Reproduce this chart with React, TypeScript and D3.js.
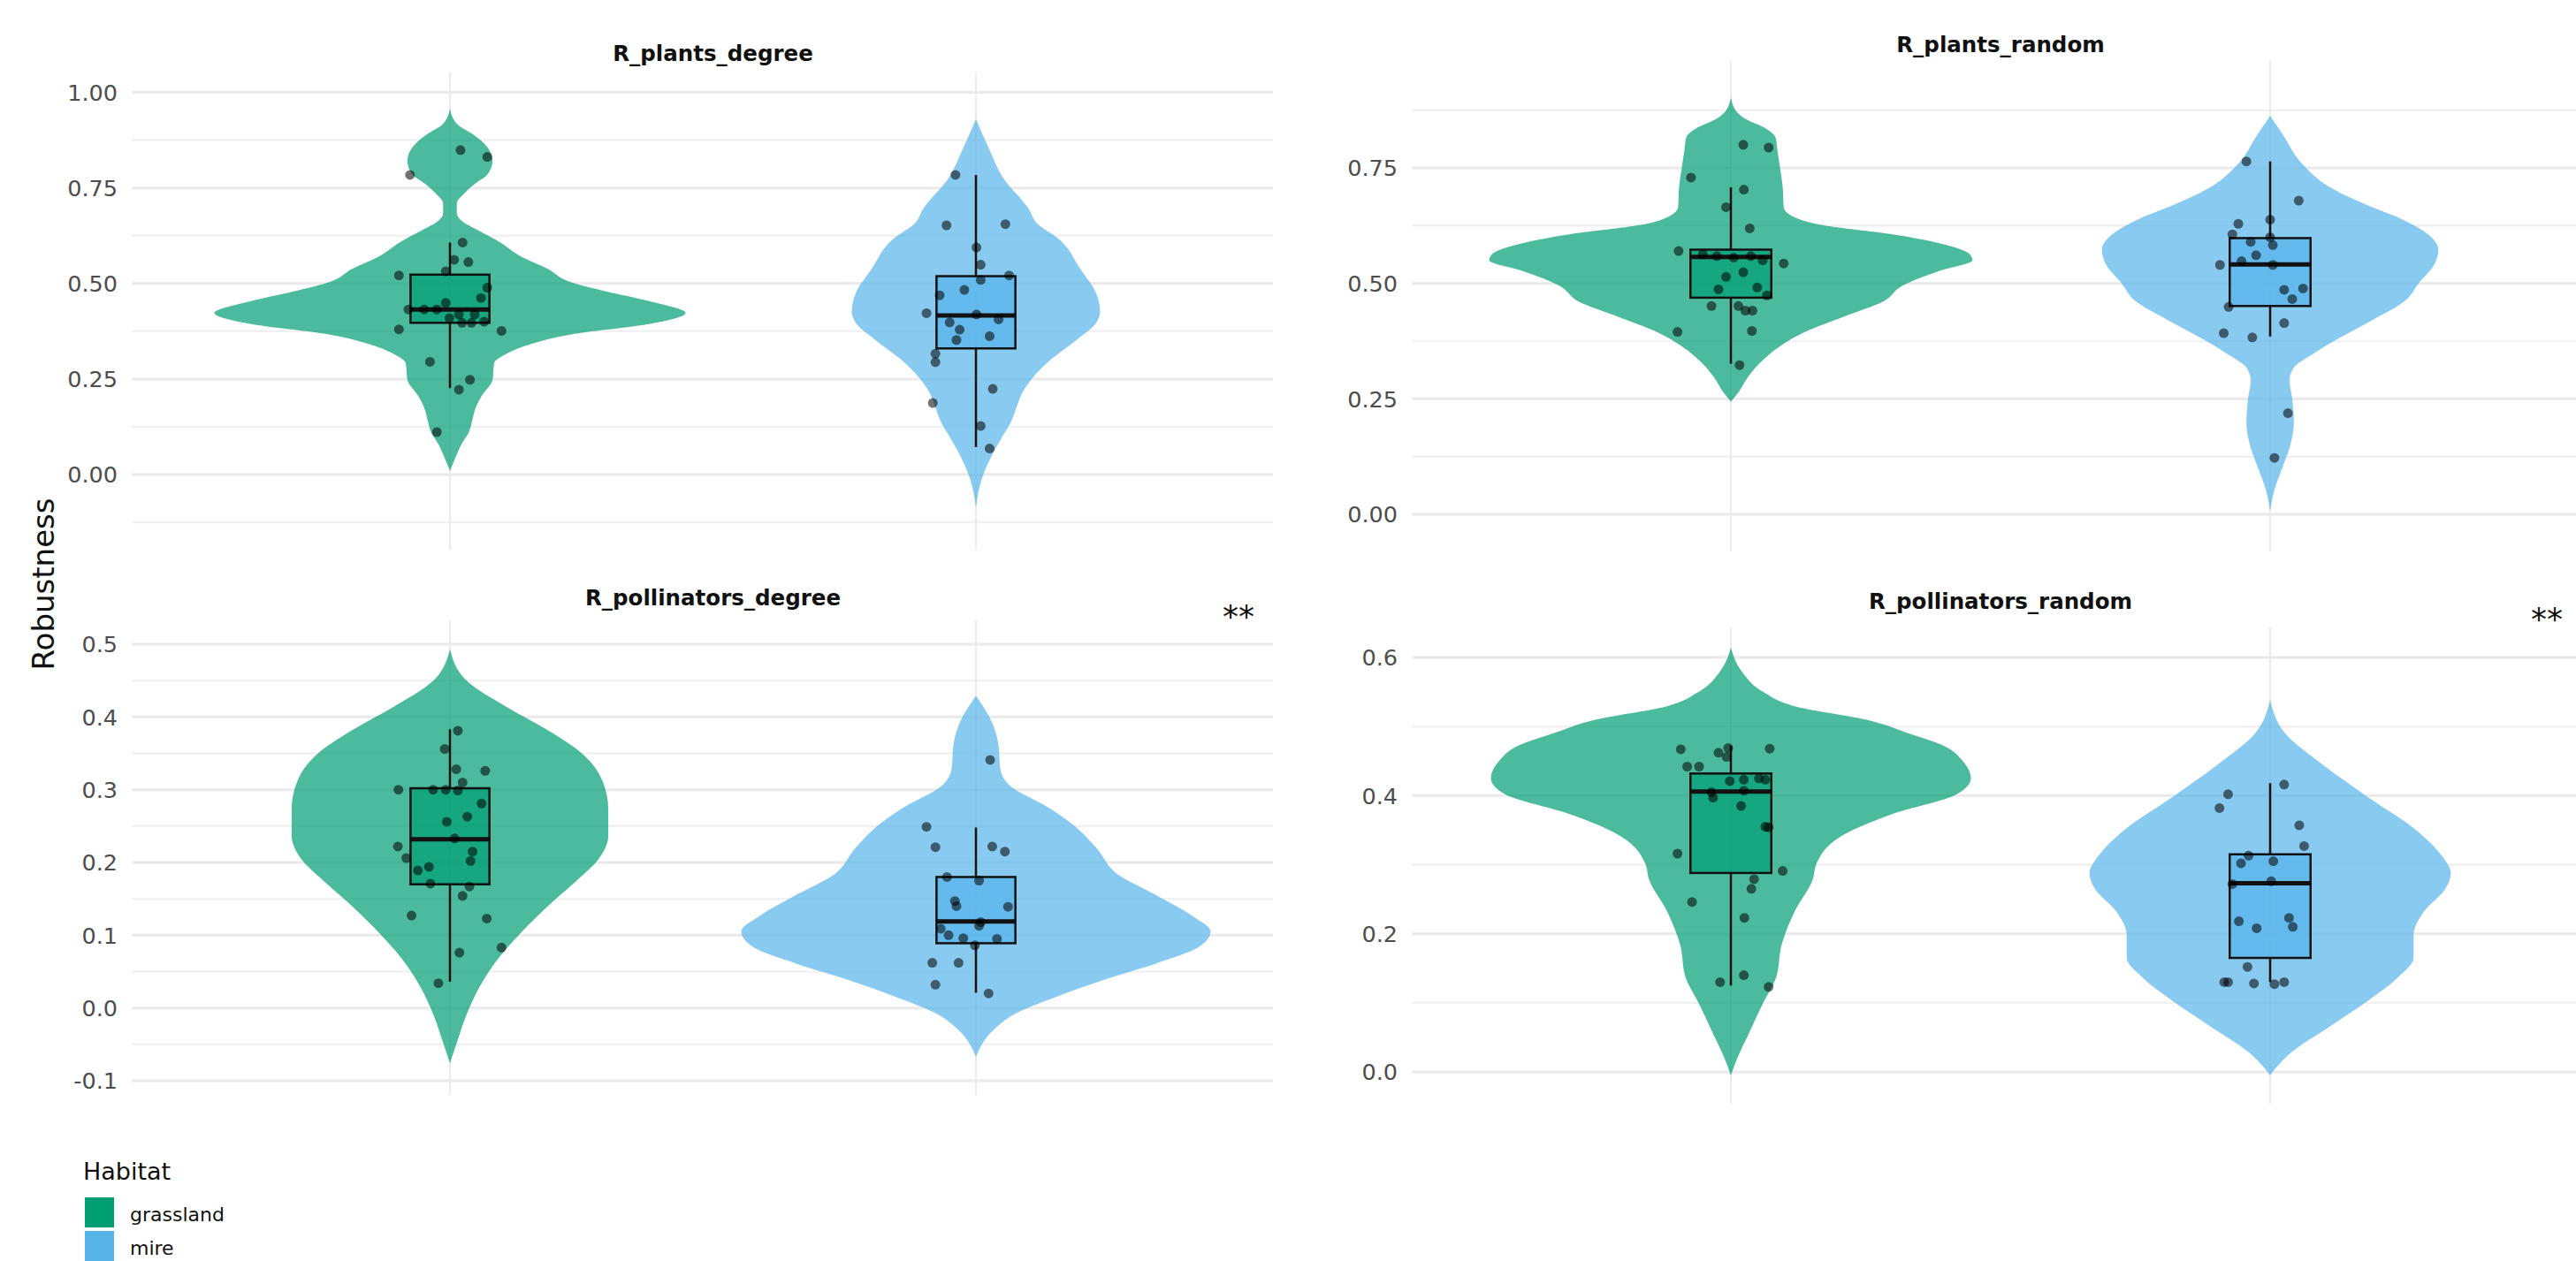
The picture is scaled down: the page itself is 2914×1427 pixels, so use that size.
import React from "react";
import * as d3 from "d3";

// ---------------- DATA ----------------
const habitats = ["grassland", "mire"];
const habitatColors = ["#009E73", "#56B4E9"];
const panelTitles = ["R_plants_degree", "R_plants_random", "R_pollinators_degree", "R_pollinators_random"];
const significance = ["", "", "**", "**"];
const yAxisTitle = "Robustness";
const legendTitle = "Habitat";

const ticksPlantsDegree = [0, 0.25, 0.5, 0.75, 1.0];
const minorPlantsDegree = [-0.125, 0.125, 0.375, 0.625, 0.875];
const ticksPlantsRandom = [0, 0.25, 0.5, 0.75];
const minorPlantsRandom = [0.125, 0.375, 0.625, 0.875];
const ticksPollDegree = [-0.1, 0, 0.1, 0.2, 0.3, 0.4, 0.5];
const minorPollDegree = [-0.05, 0.05, 0.15, 0.25, 0.35, 0.45];
const ticksPollRandom = [0, 0.2, 0.4, 0.6];
const minorPollRandom = [0.1, 0.3, 0.5];

// box stats: [lower whisker, Q1, median, Q3, upper whisker]
const plantsDegreeGrasslandBox = [0.226, 0.397, 0.432, 0.523, 0.607];
const plantsDegreeMireBox = [0.072, 0.33, 0.416, 0.519, 0.784];
const plantsRandomGrasslandBox = [0.326, 0.469, 0.557, 0.573, 0.708];
const plantsRandomMireBox = [0.385, 0.451, 0.541, 0.598, 0.764];
const pollDegreeGrasslandBox = [0.036, 0.17, 0.232, 0.302, 0.383];
const pollDegreeMireBox = [0.021, 0.089, 0.119, 0.18, 0.248];
const pollRandomGrasslandBox = [0.125, 0.288, 0.406, 0.432, 0.472];
const pollRandomMireBox = [0.13, 0.165, 0.273, 0.315, 0.418];

// points: [value, horizontal jitter (category units)]
const plantsDegreeGrasslandPts = [[0.849,0.020],[0.831,0.071],[0.784,-0.076],[0.607,0.024],[0.562,0.008],[0.556,0.035],[0.532,-0.008],[0.521,-0.097],[0.489,0.071],[0.462,0.059],[0.449,-0.008],[0.432,-0.079],[0.432,-0.049],[0.432,-0.025],[0.419,0.017],[0.419,0.047],[0.409,-0.001],[0.397,0.023],[0.397,0.041],[0.400,0.065],[0.380,-0.097],[0.376,0.098],[0.295,-0.038],[0.248,0.038],[0.222,0.017],[0.111,-0.025]];
const plantsDegreeMirePts = [[0.784,-0.039],[0.652,-0.056],[0.655,0.056],[0.594,0.001],[0.549,0.009],[0.521,0.063],[0.509,0.009],[0.483,-0.022],[0.469,-0.069],[0.422,-0.094],[0.419,0.001],[0.406,0.043],[0.398,-0.05],[0.379,-0.031],[0.362,0.026],[0.352,-0.037],[0.316,-0.077],[0.294,-0.077],[0.224,0.032],[0.187,-0.082],[0.127,0.009],[0.068,0.026]];
const plantsRandomGrasslandPts = [[0.8,0.023],[0.794,0.07],[0.729,-0.074],[0.703,0.024],[0.665,-0.009],[0.619,0.035],[0.57,-0.097],[0.563,-0.052],[0.559,-0.026],[0.556,0.005],[0.559,0.037],[0.55,0.059],[0.543,0.098],[0.524,0.023],[0.514,-0.009],[0.487,-0.023],[0.491,0.049],[0.474,0.067],[0.451,-0.036],[0.451,0.014],[0.441,0.027],[0.441,0.04],[0.395,-0.099],[0.397,0.039],[0.323,0.016]];
const plantsRandomMirePts = [[0.764,-0.044],[0.679,0.053],[0.638,0],[0.629,-0.059],[0.606,-0.07],[0.6,0],[0.59,-0.036],[0.583,0.005],[0.561,-0.026],[0.548,-0.053],[0.54,-0.093],[0.54,0.005],[0.486,0.026],[0.489,0.061],[0.466,0.041],[0.449,-0.077],[0.414,0.026],[0.392,-0.086],[0.383,-0.033],[0.219,0.033],[0.122,0.008]];
const pollDegreeGrasslandPts = [[0.381,0.015],[0.356,-0.01],[0.328,0.012],[0.326,0.067],[0.3,-0.098],[0.3,-0.032],[0.3,-0.008],[0.299,0.015],[0.31,0.024],[0.281,0.06],[0.263,0.033],[0.256,-0.006],[0.233,0.009],[0.222,-0.099],[0.215,0.043],[0.206,-0.083],[0.202,0.039],[0.194,-0.04],[0.189,-0.061],[0.171,-0.037],[0.167,0.037],[0.154,0.024],[0.127,-0.073],[0.123,0.07],[0.083,0.098],[0.076,0.018],[0.034,-0.022]];
const pollDegreeMirePts = [[0.341,0.027],[0.249,-0.094],[0.221,-0.077],[0.222,0.031],[0.215,0.055],[0.18,-0.055],[0.175,0.006],[0.147,-0.04],[0.14,-0.037],[0.139,0.061],[0.118,0.009],[0.113,0.006],[0.109,-0.067],[0.1,-0.052],[0.096,-0.024],[0.095,0.04],[0.086,-0.002],[0.062,-0.083],[0.062,-0.033],[0.032,-0.077],[0.02,0.024]];
const pollRandomGrasslandPts = [[0.467,-0.093],[0.462,-0.023],[0.469,-0.005],[0.468,0.072],[0.456,-0.008],[0.442,-0.081],[0.442,-0.059],[0.421,-0.002],[0.423,0.024],[0.425,0.052],[0.423,0.064],[0.405,-0.036],[0.407,0.024],[0.397,-0.033],[0.385,0.019],[0.355,0.064],[0.354,0.07],[0.316,-0.099],[0.291,0.096],[0.279,0.043],[0.265,0.038],[0.246,-0.072],[0.223,0.025],[0.14,0.024],[0.13,-0.02],[0.123,0.07]];
const pollRandomMirePts = [[0.416,0.026],[0.402,-0.078],[0.382,-0.094],[0.357,0.054],[0.327,0.063],[0.313,-0.04],[0.305,0.006],[0.302,-0.054],[0.276,0.002],[0.272,-0.07],[0.218,-0.058],[0.208,-0.025],[0.223,0.035],[0.21,0.042],[0.152,-0.042],[0.13,-0.085],[0.13,-0.078],[0.128,-0.03],[0.127,0.008],[0.13,0.026]];

// violin outlines: [value, half-width (category units)]
const plantsDegreeGrasslandViolin = [[0.957,0],[0.932,0.006],[0.915,0.015],[0.889,0.045],[0.855,0.072],[0.821,0.081],[0.786,0.072],[0.761,0.048],[0.735,0.027],[0.709,0.013],[0.684,0.013],[0.662,0.024],[0.641,0.051],[0.607,0.096],[0.573,0.132],[0.538,0.186],[0.504,0.228],[0.479,0.297],[0.453,0.38],[0.423,0.448],[0.393,0.375],[0.368,0.237],[0.342,0.156],[0.316,0.108],[0.291,0.084],[0.248,0.081],[0.205,0.06],[0.171,0.048],[0.145,0.043],[0.111,0.036],[0.077,0.021],[0.043,0.01],[0.009,0]];
const plantsDegreeMireViolin = [[0.93,0],[0.855,0.024],[0.776,0.052],[0.696,0.1],[0.656,0.117],[0.617,0.157],[0.537,0.199],[0.473,0.229],[0.426,0.236],[0.394,0.227],[0.354,0.193],[0.298,0.14],[0.25,0.106],[0.219,0.09],[0.179,0.078],[0.139,0.067],[0.099,0.05],[0.044,0.028],[-0.012,0.011],[-0.085,0]];
const plantsRandomGrasslandViolin = [[0.902,0],[0.87,0.012],[0.856,0.027],[0.835,0.065],[0.815,0.083],[0.79,0.086],[0.751,0.091],[0.71,0.096],[0.665,0.098],[0.645,0.115],[0.626,0.17],[0.606,0.3],[0.586,0.39],[0.563,0.443],[0.55,0.448],[0.527,0.387],[0.494,0.317],[0.461,0.283],[0.428,0.21],[0.395,0.138],[0.362,0.089],[0.329,0.055],[0.296,0.031],[0.264,0.014],[0.244,0]];
const plantsRandomMireViolin = [[0.863,0],[0.823,0.023],[0.758,0.06],[0.711,0.107],[0.672,0.175],[0.639,0.244],[0.606,0.293],[0.573,0.312],[0.54,0.304],[0.501,0.276],[0.461,0.249],[0.422,0.192],[0.382,0.129],[0.349,0.082],[0.316,0.043],[0.29,0.036],[0.25,0.041],[0.198,0.044],[0.152,0.038],[0.099,0.022],[0.053,0.008],[0.007,0]];
const pollDegreeGrasslandViolin = [[0.493,0],[0.449,0.033],[0.414,0.107],[0.383,0.183],[0.348,0.254],[0.312,0.29],[0.273,0.301],[0.237,0.301],[0.206,0.284],[0.175,0.241],[0.14,0.186],[0.105,0.137],[0.07,0.094],[0.03,0.057],[-0.01,0.031],[-0.05,0.012],[-0.076,0]];
const pollDegreeMireViolin = [[0.429,0],[0.392,0.031],[0.361,0.043],[0.33,0.046],[0.304,0.067],[0.277,0.134],[0.251,0.186],[0.22,0.229],[0.184,0.269],[0.153,0.348],[0.127,0.41],[0.105,0.446],[0.083,0.422],[0.061,0.342],[0.039,0.245],[0.017,0.159],[-0.006,0.08],[-0.032,0.031],[-0.067,0]];
const pollRandomGrasslandViolin = [[0.614,0],[0.58,0.02],[0.55,0.06],[0.529,0.12],[0.51,0.25],[0.49,0.33],[0.472,0.395],[0.45,0.43],[0.425,0.445],[0.402,0.419],[0.373,0.298],[0.34,0.202],[0.302,0.159],[0.279,0.152],[0.232,0.118],[0.184,0.094],[0.137,0.084],[0.1,0.06],[0.057,0.034],[0.02,0.012],[-0.005,0]];
const pollRandomMireViolin = [[0.539,0],[0.491,0.027],[0.444,0.099],[0.397,0.183],[0.35,0.271],[0.312,0.319],[0.288,0.335],[0.265,0.325],[0.232,0.285],[0.198,0.266],[0.165,0.266],[0.137,0.237],[0.104,0.183],[0.066,0.111],[0.028,0.039],[-0.005,0]];

// ---------------- LAYOUT ----------------
const W = 2914;
const H = 1427;
const FONT = "'DejaVu Sans', 'Liberation Sans', Arial, sans-serif";

const layouts = [
  { x0: 149, x1: 1440, top: 82, bottom: 622, cx: [509, 1104], yDom: [0, 1], yRng: [537, 104.5], titleY: 69, fmt: ".2f", sigX: 0, sigY: 0 },
  { x0: 1597, x1: 2914, top: 69, bottom: 624, cx: [1958, 2568], yDom: [0, 0.75], yRng: [582, 190], titleY: 58.5, fmt: ".2f", sigX: 0, sigY: 0 },
  { x0: 149, x1: 1440, top: 702, bottom: 1239, cx: [509, 1104], yDom: [-0.1, 0.5], yRng: [1223, 729], titleY: 685, fmt: ".1f", sigX: 1401, sigY: 710 },
  { x0: 1597, x1: 2914, top: 710, bottom: 1249, cx: [1958, 2568], yDom: [0, 0.6], yRng: [1213, 744], titleY: 689, fmt: ".1f", sigX: 2881, sigY: 713 },
];

const panelData = [
  { ticks: ticksPlantsDegree, minor: minorPlantsDegree, violins: [plantsDegreeGrasslandViolin, plantsDegreeMireViolin], boxes: [plantsDegreeGrasslandBox, plantsDegreeMireBox], pts: [plantsDegreeGrasslandPts, plantsDegreeMirePts] },
  { ticks: ticksPlantsRandom, minor: minorPlantsRandom, violins: [plantsRandomGrasslandViolin, plantsRandomMireViolin], boxes: [plantsRandomGrasslandBox, plantsRandomMireBox], pts: [plantsRandomGrasslandPts, plantsRandomMirePts] },
  { ticks: ticksPollDegree, minor: minorPollDegree, violins: [pollDegreeGrasslandViolin, pollDegreeMireViolin], boxes: [pollDegreeGrasslandBox, pollDegreeMireBox], pts: [pollDegreeGrasslandPts, pollDegreeMirePts] },
  { ticks: ticksPollRandom, minor: minorPollRandom, violins: [pollRandomGrasslandViolin, pollRandomMireViolin], boxes: [pollRandomGrasslandBox, pollRandomMireBox], pts: [pollRandomGrasslandPts, pollRandomMirePts] },
];

const BOX_HALF = 0.075;
const locale = d3.formatLocale({ decimal: ".", thousands: ",", grouping: [3], currency: ["", ""], minus: "-" });

function Panel({ i }: { i: number }) {
  const L = layouts[i];
  const D = panelData[i];
  const y = d3.scaleLinear().domain(L.yDom).range(L.yRng);
  const x = d3.scalePoint<string>().domain(habitats).range(L.cx as [number, number]);
  const unit = (x(habitats[1]) as number) - (x(habitats[0]) as number);
  const fmt = locale.format(L.fmt);
  const color = d3.scaleOrdinal<string, string>().domain(habitats).range(habitatColors);

  return (
    <g>
      {D.minor.map((v, k) => (
        <line key={"mn" + k} x1={L.x0} x2={L.x1} y1={y(v)} y2={y(v)} stroke="#F1F1F1" strokeWidth={2.5} />
      ))}
      {D.ticks.map((v, k) => (
        <line key={"mj" + k} x1={L.x0} x2={L.x1} y1={y(v)} y2={y(v)} stroke="#EAEAEA" strokeWidth={3} />
      ))}
      {habitats.map((h) => (
        <line key={"vg" + h} x1={x(h)} x2={x(h)} y1={L.top} y2={L.bottom} stroke="#EBEBEB" strokeWidth={2} />
      ))}
      {D.ticks.map((v, k) => (
        <text key={"tl" + k} x={L.x0 - 16} y={y(v)} dy="0.36em" textAnchor="end" fontSize={25.5} fill="#4D4D4D">
          {fmt(v)}
        </text>
      ))}
      {habitats.map((h, j) => {
        const cx = x(h) as number;
        const area = d3
          .area<number[]>()
          .y((d) => y(d[0]))
          .x0((d) => cx - d[1] * unit)
          .x1((d) => cx + d[1] * unit)
          .curve(d3.curveMonotoneY);
        return <path key={"v" + h} d={area(D.violins[j]) || ""} fill={color(h)} fillOpacity={0.7} />;
      })}
      {habitats.map((h, j) => {
        const cx = x(h) as number;
        const [lo, q1, med, q3, hi] = D.boxes[j];
        const bx = cx - BOX_HALF * unit;
        const bw = 2 * BOX_HALF * unit;
        return (
          <g key={"b" + h}>
            <line x1={cx} x2={cx} y1={y(hi)} y2={y(q3)} stroke="#111" strokeWidth={2.5} />
            <line x1={cx} x2={cx} y1={y(q1)} y2={y(lo)} stroke="#111" strokeWidth={2.5} />
            <rect x={bx} y={y(q3)} width={bw} height={y(q1) - y(q3)} fill={color(h)} fillOpacity={0.7} stroke="#111" strokeWidth={2.5} />
            <line x1={bx} x2={bx + bw} y1={y(med)} y2={y(med)} stroke="#111" strokeWidth={5} />
          </g>
        );
      })}
      {habitats.map((h, j) => {
        const cx = x(h) as number;
        return (
          <g key={"p" + h}>
            {D.pts[j].map((p, k) => (
              <circle key={k} cx={cx + p[1] * unit} cy={y(p[0])} r={5.5} fill="#000" fillOpacity={0.55} />
            ))}
          </g>
        );
      })}
      <text x={(L.cx[0] + L.cx[1]) / 2} y={L.titleY} textAnchor="middle" fontSize={24.5} fontWeight="bold" fill="#111">
        {panelTitles[i]}
      </text>
      {significance[i] ? (
        <text x={L.sigX} y={L.sigY} textAnchor="middle" fontSize={36} fill="#111">
          {significance[i]}
        </text>
      ) : null}
    </g>
  );
}

export default function App() {
  React.useEffect(() => {
    document.body.style.margin = "0";
    document.body.style.overflow = "hidden";
  }, []);
  return (
    <svg
      width={W}
      height={H}
      viewBox={`0 0 ${W} ${H}`}
      style={{ display: "block", position: "absolute", left: 0, top: 0 }}
      fontFamily={FONT}
    >
      <rect x={0} y={0} width={W} height={H} fill="#FFFFFF" />
      {layouts.map((_, i) => (
        <Panel key={i} i={i} />
      ))}
      <text transform="translate(61,661) rotate(-90)" textAnchor="middle" fontSize={34} fill="#111">
        {yAxisTitle}
      </text>
      <text x={94} y={1335} fontSize={27} fill="#111">
        {legendTitle}
      </text>
      {habitats.map((h, j) => (
        <g key={"lg" + h}>
          <rect x={96} y={1355 + j * 38} width={33} height={34} fill={habitatColors[j]} />
          <text x={147} y={1382 + j * 38} fontSize={22} fill="#111">
            {h}
          </text>
        </g>
      ))}
    </svg>
  );
}
